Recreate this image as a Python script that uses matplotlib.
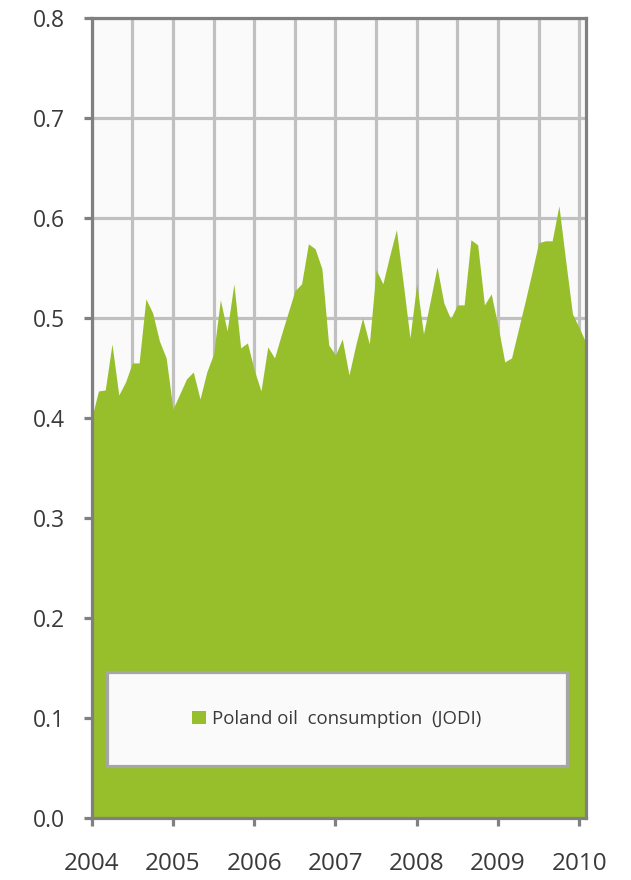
import numpy as np
import matplotlib
matplotlib.use("Agg")
import matplotlib.pyplot as plt
from matplotlib.patches import Rectangle, Patch

plt.rcParams['font.family'] = ['Open Sans', 'DejaVu Sans']

# monthly values, Jan 2004 .. Feb 2010
start_year = 2004
consumption = [
    0.400, 0.427, 0.428, 0.474, 0.423, 0.436, 0.455, 0.455, 0.519, 0.505, 0.477, 0.460,
    0.409, 0.424, 0.439, 0.446, 0.419, 0.446, 0.464, 0.518, 0.487, 0.534, 0.470, 0.475,
    0.448, 0.427, 0.471, 0.460, 0.483, 0.505, 0.527, 0.534, 0.574, 0.569, 0.549, 0.473,
    0.463, 0.479, 0.443, 0.473, 0.500, 0.474, 0.548, 0.534, 0.562, 0.588, 0.535, 0.480,
    0.534, 0.484, 0.517, 0.551, 0.515, 0.499, 0.513, 0.513, 0.578, 0.573, 0.513, 0.524,
    0.492, 0.456, 0.460, 0.488, 0.516, 0.545, 0.575, 0.577, 0.577, 0.612, 0.557, 0.504,
    0.490, 0.475,
]
year_ticks = [2004, 2005, 2006, 2007, 2008, 2009, 2010]
y_ticks = [0.0, 0.1, 0.2, 0.3, 0.4, 0.5, 0.6, 0.7, 0.8]
series_label = "Poland oil  consumption  (JODI)"

GREEN = '#97bf2b'
SPINE = '#808080'
GRID = '#c0c0c0'
TXT = '#3a3a3a'

x = start_year + np.arange(len(consumption)) / 12.0

fig = plt.figure(figsize=(6.31, 8.80), dpi=100)
ax = fig.add_axes([0.1453, 0.0699, 0.7834, 0.9102])
ax.set_facecolor('#fafafa')

ax.fill_between(x, 0, consumption, color=GREEN, lw=0, zorder=2)

ax.set_xlim(x[0], x[-1])
ax.set_ylim(0, 0.8)
ax.set_xticks(year_ticks)
ax.set_xticks(np.arange(2004.5, 2010, 1.0), minor=True)
ax.set_yticks(y_ticks)
ax.set_yticklabels([f"{v:.1f}" for v in y_ticks])

ax.set_axisbelow(True)
ax.grid(True, which='both', color=GRID, lw=2.3)

for s in ax.spines.values():
    s.set_color(SPINE)
    s.set_linewidth(2.3)
    s.set_zorder(5)

ax.tick_params(axis='both', which='major', color=SPINE, width=2.3, length=6,
               labelcolor=TXT)
ax.tick_params(axis='y', labelsize=16.5, pad=13)
ax.tick_params(axis='x', labelsize=17.5, pad=18)
ax.tick_params(which='minor', length=0)

# legend box drawn inside the plot area
ax.add_patch(Rectangle((0.030, 0.0655), 0.932, 0.1178, transform=ax.transAxes,
                       facecolor='#fafafa', edgecolor='#a6a6a6', lw=2.3, zorder=6))
leg = ax.legend(handles=[Patch(facecolor=GREEN, edgecolor='none', label=series_label)],
                loc='center', bbox_to_anchor=(0.496, 0.1244), frameon=False,
                fontsize=13.4, handlelength=0.75, handleheight=0.75, handletextpad=0.3)
leg.set_zorder(7)
for t in leg.get_texts():
    t.set_color(TXT)

fig.savefig('out.png', dpi=100)
